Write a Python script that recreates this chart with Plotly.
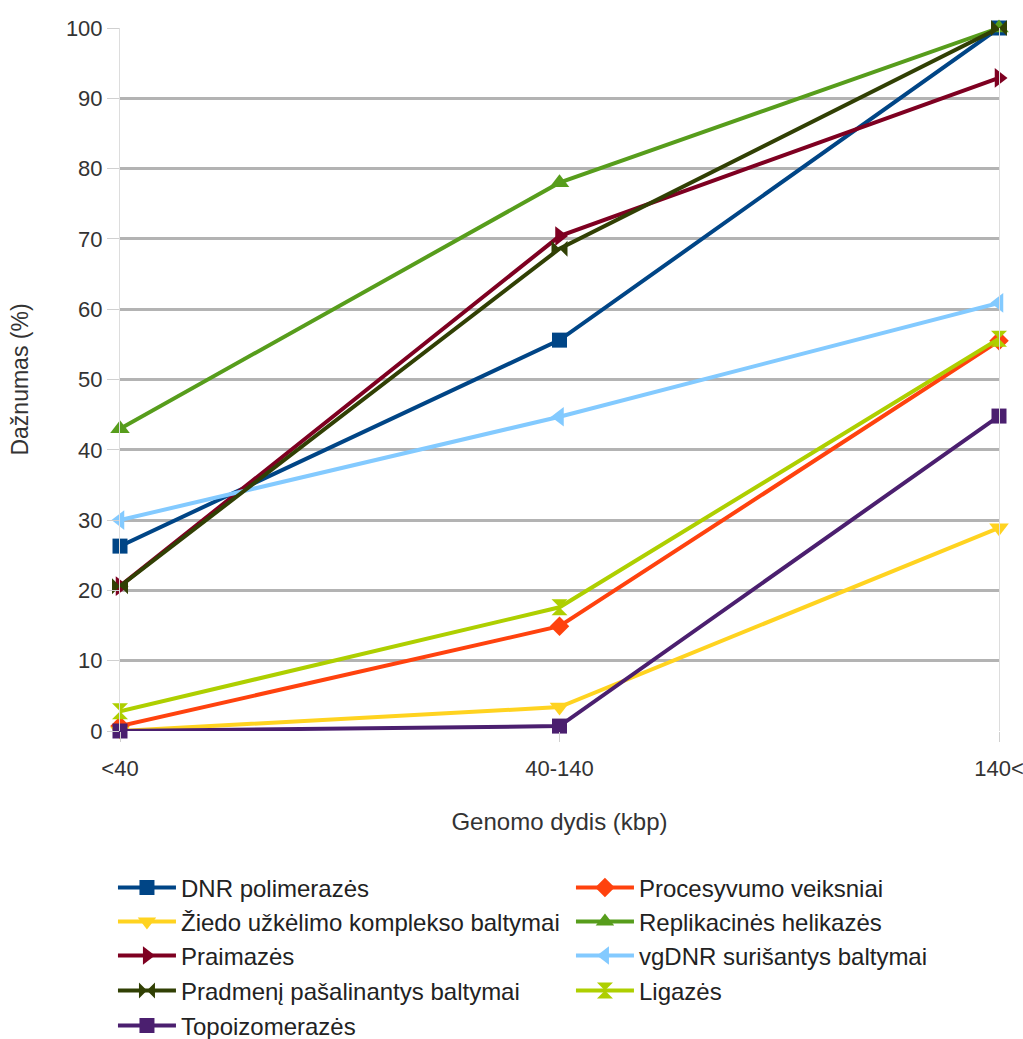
import plotly.graph_objects as go

categories = ["<40", "40-140", "140<"]

series_names = [
    "DNR polimerazės",
    "Procesyvumo veiksniai",
    "Žiedo užkėlimo komplekso baltymai",
    "Replikacinės helikazės",
    "Praimazės",
    "vgDNR surišantys baltymai",
    "Pradmenį pašalinantys baltymai",
    "Ligazės",
    "Topoizomerazės",
]

dnr_polimerazes = [26.3, 55.6, 100]
procesyvumo = [0.7, 14.9, 55.5]
ziedo = [0.0, 3.4, 28.9]
replikacines = [43.0, 78.0, 100]
praimazes = [20.6, 70.4, 92.9]
vgdnr = [30.0, 44.7, 60.9]
pradmeni = [20.6, 68.6, 100]
ligazes = [2.8, 17.6, 55.8]
topoizomerazes = [0.0, 0.7, 44.8]

values = [dnr_polimerazes, procesyvumo, ziedo, replikacines, praimazes,
          vgdnr, pradmeni, ligazes, topoizomerazes]
colors = ["#004586", "#ff420e", "#ffd320", "#579d1c", "#7e0021",
          "#83caff", "#314004", "#aecf00", "#4b1f6f"]
symbols = ["square", "diamond", "triangle-down", "triangle-up", "triangle-right",
           "triangle-left", "bowtie", "hourglass", "square"]
marker_sizes = [15, 15, 17, 17, 17, 17, 16, 16, 15]

y_ticks = list(range(0, 101, 10))

# legend rows (two entries per row)
legend_ids = ["legend", "legend2", "legend3", "legend4", "legend5"]
legend_rows_y = [-0.2233, -0.2717, -0.3200, -0.3698, -0.4196]

font = "Liberation Sans, Arial, sans-serif"

fig = go.Figure()
for i, (name, vals, col, sym, ms) in enumerate(zip(series_names, values, colors, symbols, marker_sizes)):
    fig.add_trace(go.Scatter(
        x=categories, y=vals, name=name, mode="lines+markers",
        line=dict(color=col, width=4),
        marker=dict(symbol=sym, size=ms, color=col, line=dict(width=0)),
        cliponaxis=False,
        legend=legend_ids[i // 2],
    ))

legend_layout = {}
for lid, ly in zip(legend_ids, legend_rows_y):
    legend_layout[lid] = dict(
        orientation="h", x=-0.008, xanchor="left", y=ly, yanchor="middle",
        entrywidth=385, entrywidthmode="pixels",
        font=dict(size=24, color="#222222", family=font),
        itemwidth=58, bgcolor="rgba(0,0,0,0)",
    )

fig.update_layout(
    width=1023, height=1039,
    margin=dict(l=120, r=24, t=28, b=308, autoexpand=False),
    paper_bgcolor="white", plot_bgcolor="white",
    font=dict(family=font, size=22, color="#333333"),
    showlegend=True,
    xaxis=dict(
        type="category", range=[0, 2], showgrid=False,
        showline=False, zeroline=False,
        ticks="outside", ticklen=10, tickcolor="#d0d0d0", tickwidth=1,
        ticklabelstandoff=8,
        tickfont=dict(size=22, color="#333333"),
        title=dict(text="Genomo dydis (kbp)", font=dict(size=24, color="#333333"), standoff=32),
    ),
    yaxis=dict(
        range=[0, 100], tickvals=y_ticks, showgrid=True,
        gridcolor="#b3b3b3", gridwidth=3, zeroline=False,
        showline=True, linecolor="#dddddd", linewidth=1, mirror=True,
        ticks="outside", ticklen=12, tickcolor="#d0d0d0", tickwidth=1,
        tickfont=dict(size=22, color="#333333"),
        title=dict(text="Dažnumas (%)", font=dict(size=23, color="#333333"), standoff=30),
    ),
    **legend_layout,
)

fig.write_html("out.html")
